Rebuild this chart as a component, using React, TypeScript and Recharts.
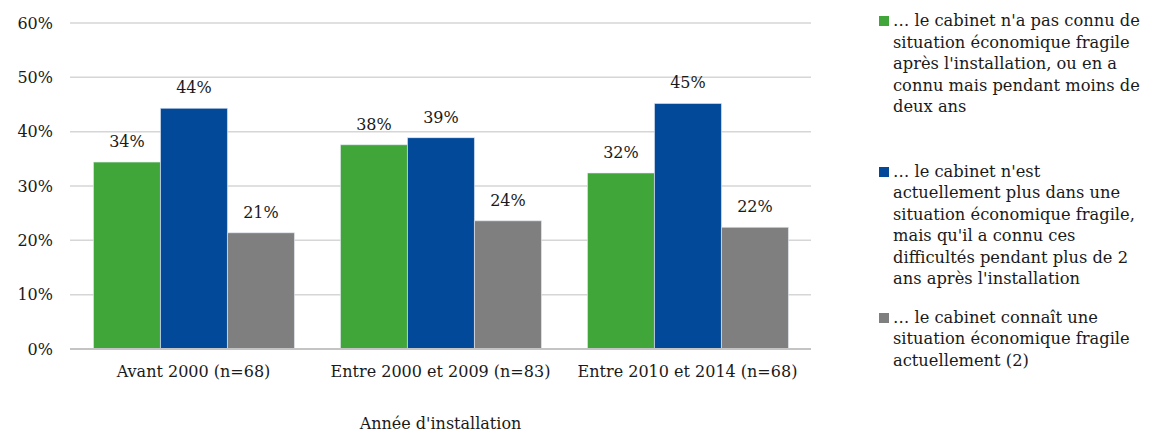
import { Bar, BarChart, CartesianGrid, LabelList, XAxis, YAxis } from "recharts";

const categories = ["Avant 2000 (n=68)", "Entre 2000 et 2009 (n=83)", "Entre 2010 et 2014 (n=68)"];
const jamaisFragile = [34.4, 37.6, 32.4];
const plusFragile = [44.3, 38.9, 45.2];
const fragileActuel = [21.4, 23.6, 22.4];
const yTicks = [0, 10, 20, 30, 40, 50, 60];

const series = [
  {
    key: "jamais",
    color: "#41a63a",
    lines: [
      "… le cabinet n'a pas connu de",
      "situation économique fragile",
      "après l'installation, ou en a",
      "connu mais pendant moins de",
      "deux ans",
    ],
  },
  {
    key: "plus",
    color: "#03499a",
    lines: [
      "… le cabinet n'est",
      "actuellement plus dans une",
      "situation économique fragile,",
      "mais qu'il a connu ces",
      "difficultés pendant plus de 2",
      "ans après l'installation",
    ],
  },
  {
    key: "actuel",
    color: "#7f7f7f",
    lines: ["… le cabinet connaît une", "situation économique fragile", "actuellement (2)"],
  },
];

const data = categories.map((name, i) => ({
  name,
  jamais: jamaisFragile[i],
  plus: plusFragile[i],
  actuel: fragileActuel[i],
}));

const FONT = "'DejaVu Serif', serif";
const TEXT = { fontSize: 16, fill: "#1a1a1a", fontFamily: FONT };
const entryGaps = [0, 43, 17];

function LegendBox() {
  return (
    <div
      style={{
        position: "absolute",
        left: 879,
        top: 10,
        fontFamily: FONT,
        fontSize: 16.3,
        lineHeight: "21.5px",
        color: "#1a1a1a",
      }}
    >
      {series.map((s, i) => (
        <div key={s.key} style={{ position: "relative", paddingLeft: 14, marginTop: entryGaps[i] }}>
          <span
            style={{
              position: "absolute",
              left: 0,
              top: 6,
              width: 10,
              height: 10,
              backgroundColor: s.color,
            }}
          />
          {s.lines.map((l) => (
            <div key={l} style={{ whiteSpace: "nowrap" }}>
              {l}
            </div>
          ))}
        </div>
      ))}
    </div>
  );
}

export default function App() {
  return (
    <div style={{ position: "absolute", left: 0, top: 0, width: 1152, height: 432, background: "#fff" }}>
      <BarChart
        width={1152}
        height={432}
        data={data}
        margin={{ top: 23, right: 341, bottom: 0, left: 10 }}
        barCategoryGap="9.5%"
        barGap={0}
      >
        <CartesianGrid vertical={false} stroke="#d6d6d6" strokeWidth={1.5} />
        <XAxis
          dataKey="name"
          height={83}
          interval={0}
          tickLine={false}
          tickSize={0}
          tickMargin={17}
          axisLine={{ stroke: "#c4c4c4", strokeWidth: 2 }}
          tick={TEXT}
          label={{
            value: "Année d'installation",
            position: "insideBottom",
            offset: 3,
            style: TEXT,
          }}
        />
        <YAxis
          width={60}
          domain={[0, 60]}
          ticks={yTicks}
          tickFormatter={(v: number) => `${v}%`}
          axisLine={false}
          tickLine={false}
          tickSize={0}
          tickMargin={17}
          tick={TEXT}
        />
        {series.map((s) => (
          <Bar key={s.key} dataKey={s.key} fill={s.color} stroke="#e8eef6" strokeWidth={0.6} isAnimationActive={false}>
            <LabelList
              dataKey={s.key}
              position="top"
              offset={15}
              formatter={(v: number) => `${Math.round(v)}%`}
              style={TEXT}
            />
          </Bar>
        ))}
      </BarChart>
      <LegendBox />
    </div>
  );
}
